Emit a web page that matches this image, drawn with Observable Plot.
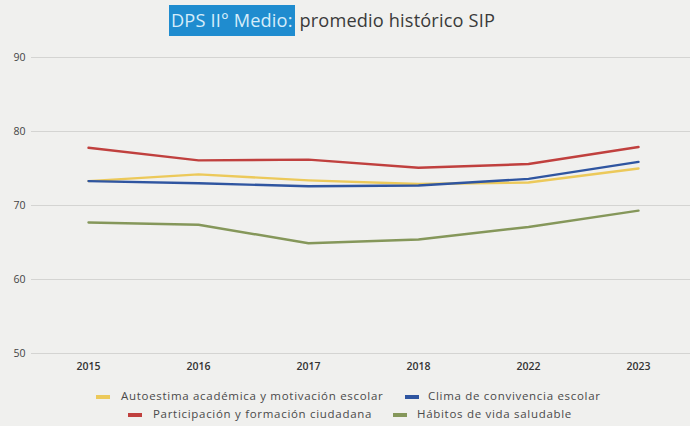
<!DOCTYPE html>
<html>
<head>
<meta charset="utf-8">
<script src="https://cdn.jsdelivr.net/npm/d3@7"></script>
<script src="https://cdn.jsdelivr.net/npm/@observablehq/plot@0.6"></script>
<style>
  html, body { margin: 0; padding: 0; background: #f0f0ee; }
  body { width: 690px; height: 426px; overflow: hidden; font-family: "Open Sans", Lato, sans-serif; position: relative; }
  #title { height: 40px; position: relative; }
  #title .t { position: absolute; left: 169px; top: 8px; font-family: "Open Sans", sans-serif; font-size: 18.2px; font-weight: 400; color: #3a3a3a; white-space: nowrap; letter-spacing: 0.15px; }
  #title .hl { background: #1f8ccf; color: #d6ecfa; padding: 3px 2px 4px 2px; }
  #legend { font-family: "Open Sans", sans-serif; font-size: 11.5px; color: #4a4a4a; letter-spacing: 0.7px; }
  .sw { position: absolute; width: 14px; height: 4px; }
  .lt { position: absolute; white-space: nowrap; line-height: 14px; }
</style>
</head>
<body>
<div id="title"><span class="t"><span class="hl">DPS II° Medio:</span> promedio histórico SIP</span></div>
<div id="chart"></div>
<div id="legend"></div>
<script>
const years = ["2015", "2016", "2017", "2018", "2022", "2023"];
const seriesNames = [
  "Autoestima académica y motivación escolar",
  "Clima de convivencia escolar",
  "Participación y formación ciudadana",
  "Hábitos de vida saludable"
];
const autoestima = [73.3, 74.2, 73.4, 72.9, 73.1, 75.0];
const clima = [73.3, 73.0, 72.6, 72.7, 73.6, 75.9];
const participacion = [77.8, 76.1, 76.2, 75.1, 75.6, 77.9];
const habitos = [67.7, 67.4, 64.9, 65.4, 67.1, 69.3];
const colors = ["#ecc95a", "#2f55a0", "#c0403e", "#85975a"];
const yTicks = [50, 60, 70, 80, 90];

const valueSets = [autoestima, clima, participacion, habitos];
const data = [];
seriesNames.forEach((s, i) => years.forEach((y, j) => data.push({series: s, year: y, value: valueSets[i][j]})));

const chart = Plot.plot({
  width: 690,
  height: 340,
  marginLeft: 31,
  marginRight: 0,
  marginTop: 17,
  marginBottom: 27,
  style: {background: "transparent", fontFamily: "'Open Sans', sans-serif"},
  x: {type: "point", domain: years, range: [33, 693], padding: 0.5, label: null},
  y: {domain: [50, 90], ticks: yTicks, label: null},
  color: {domain: seriesNames, range: colors},
  marks: [
    Plot.ruleY(yTicks, {stroke: "#d4d4d2", strokeWidth: 1.2}),
    Plot.axisY({ticks: yTicks, tickSize: 0, tickPadding: 6, fontSize: 10.5, fill: "#444", label: null}),
    Plot.axisX({tickSize: 0, tickPadding: 9, fontSize: 10.5, fontWeight: 600, fill: "#333", label: null}),
    Plot.line(data, {x: "year", y: "value", z: "series", stroke: "series", strokeWidth: 2.4, curve: "linear"})
  ]
});
document.getElementById("chart").appendChild(chart);

// legend item placement (swatch left, text left, row center y)
const legendPos = [
  {sw: 96, tx: 121, y: 397},
  {sw: 405, tx: 428, y: 397},
  {sw: 128, tx: 153, y: 415},
  {sw: 393, tx: 417, y: 415}
];
const legend = document.getElementById("legend");
seriesNames.forEach((name, i) => {
  const p = legendPos[i];
  const sw = document.createElement("div");
  sw.className = "sw";
  sw.style.left = p.sw + "px";
  sw.style.top = (p.y - 2) + "px";
  sw.style.background = colors[i];
  legend.appendChild(sw);
  const t = document.createElement("div");
  t.className = "lt";
  t.style.left = p.tx + "px";
  t.style.top = (p.y - 8) + "px";
  t.textContent = name;
  legend.appendChild(t);
});
</script>
</body>
</html>
